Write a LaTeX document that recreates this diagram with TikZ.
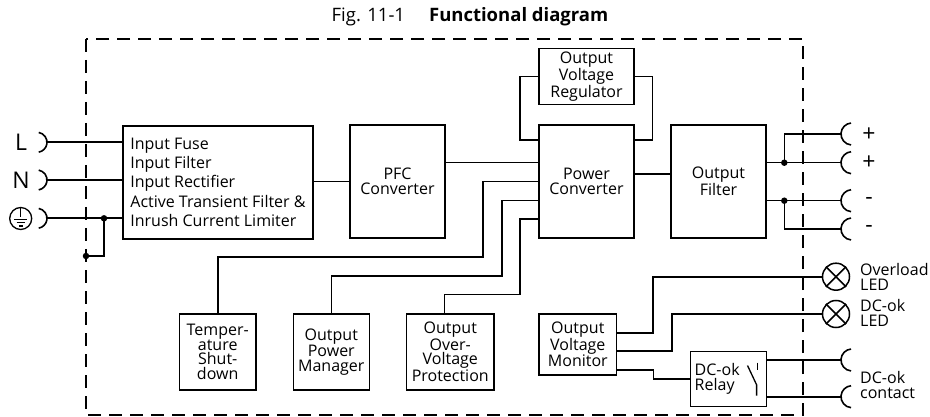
\documentclass[tikz,border=0pt]{standalone}
\usepackage{fontspec}
\setmainfont{Open Sans}
\begin{document}
\begin{tikzpicture}[x=1pt,y=-1pt]
\tikzset{
 blk/.style={draw, line width=1.5pt, align=center, inner sep=2pt, font=\fontsize{16}{15}\selectfont},
 wire/.style={line width=1.6pt},
 dot/.style={circle, fill, inner sep=0pt, minimum size=6.5pt},
 border/.style={line width=2pt, dash pattern=on 13pt off 8pt},
 big/.style={font=\fontsize{23}{24}\selectfont, inner sep=0pt},
 lbl/.style={font=\fontsize{16}{15}\selectfont, align=left, anchor=west, inner sep=0pt},
 lamp/.style={draw, circle, line width=1.5pt, minimum size=27pt, inner sep=0pt},
 lcup/.pic={\draw[line width=1.6pt] (-10,0) ++(-80:10) arc[start angle=-80,end angle=80,radius=10];},
 rcup/.pic={\draw[line width=1.6pt] (11,0) ++(95:11) arc[start angle=95,end angle=265,radius=11];}
}
\useasboundingbox (0,0) rectangle (930,417);
% title
\node[font=\fontsize{18.5}{19}\selectfont, inner sep=0pt] (title) at (470,16.5) {Fig. 11-1\hspace{1.3em}\textbf{Functional diagram}};
% border
\draw[border] (86,39) rectangle (803,415);
% blocks
\node[blk, minimum width=190pt, minimum height=113pt, align=left, font=\fontsize{16}{19.3}\selectfont] (in) at (218,182.3) {Input Fuse\\Input Filter\\Input Rectifier\\Active Transient Filter \&\\Inrush Current Limiter};
\node[blk, minimum width=95pt, minimum height=113pt] (pfc) at (397.5,181.5) {PFC\\Converter};
\node[blk, minimum width=95pt, minimum height=113pt] (pc) at (586.5,181.5) {Power\\Converter};
\node[blk, minimum width=95pt, minimum height=56pt, font=\fontsize{16}{15.8}\selectfont] (reg) at (586.5,76.4) {Output\\Voltage\\Regulator};
\node[blk, minimum width=95pt, minimum height=113pt] (of) at (718.5,181.5) {Output\\Filter};
\node[blk, minimum width=76.7pt, minimum height=76pt, font=\fontsize{16}{14.5}\selectfont] (temp) at (217.7,352) {Temper-\\ature\\Shut-\\down};
\node[blk, minimum width=76pt, minimum height=76pt, font=\fontsize{16}{14.3}\selectfont] (opm) at (331.3,352) {Output\\Power\\Manager};
\node[blk, minimum width=87.3pt, minimum height=76pt, font=\fontsize{16}{14.5}\selectfont] (oovp) at (450.3,352) {Output\\Over-\\Voltage\\Protection};
\node[blk, minimum width=77.7pt, minimum height=61pt, font=\fontsize{16}{15.8}\selectfont] (ovm) at (577.8,344.5) {Output\\Voltage\\Monitor};
\node[blk, minimum height=55pt, text width=68pt, inner xsep=4pt, align=left] (rel) at (728.7,379.2) {DC-ok\\Relay};
% relay switch
\draw[line width=1.3pt] (747.5,365.5) -- (756.6,384.8) -- (756.6,395.6);
\draw[line width=1.3pt] (757.8,362.5) -- (757.8,370);
% input terminals
\node[big] (lL) at (21,142.3) {L};
\node[big] (lN) at (21,180) {N};
\node[draw, circle, line width=1.3pt, minimum size=22pt, inner sep=0pt] (pe) at (20.7,218.5) {};
\draw[line width=1.2pt] (pe.north) -- ([yshift=1pt]pe.center);
\draw[line width=1.2pt] ([xshift=-6.7pt,yshift=-1pt]pe.center) -- ([xshift=6.7pt,yshift=-1pt]pe.center);
\draw[line width=1.2pt] ([xshift=-4.2pt,yshift=-4.3pt]pe.center) -- ([xshift=4.2pt,yshift=-4.3pt]pe.center);
\draw[line width=1.2pt] ([xshift=-1.9pt,yshift=-7.6pt]pe.center) -- ([xshift=1.9pt,yshift=-7.6pt]pe.center);
\coordinate (tL) at (47,142.3);
\coordinate (tN) at (47,180);
\coordinate (tE) at (47,218.3);
\pic at (tL) {lcup};
\pic at (tN) {lcup};
\pic at (tE) {lcup};
\draw[wire] (tL) -- (tL -| in.west);
\draw[wire] (tN) -- (tN -| in.west);
\draw[wire] (tE) -- (tE -| in.west);
\node[dot] (gd) at (104,218.3) {};
\node[dot] (bd) at (86,256) {};
\draw[wire] (gd.center) |- (bd.center);
% main chain
\draw[wire] (in.east |- 0,181.7) -- (pfc.west |- 0,181.7);
\draw[wire] (pfc.east |- 0,162.7) -- (pc.west |- 0,162.7);
\draw[wire] (reg.west) -| (520,140) -- (pc.west |- 0,140);
\draw[wire] (reg.east) -| (652.3,140) -- (pc.east |- 0,140);
\draw[wire] (pc.east |- 0,174) -- (of.west |- 0,174);
% control blocks
\draw[wire] (pc.west |- 0,181.7) -| (482.7,256.7) -| (temp.north);
\draw[wire] (pc.west |- 0,200.7) -| (501.7,275.7) -| (opm.north);
\draw[wire] (pc.west |- 0,219) -| (520,294.3) -| ([xshift=-6pt]oovp.north);
% outputs
\node[dot] (pd) at (784.3,162.7) {};
\node[dot] (md) at (784.3,200.7) {};
\coordinate (tP1) at (841,134);
\coordinate (tP2) at (841,162.7);
\coordinate (tM1) at (841,200.7);
\coordinate (tM2) at (841,229);
\draw[wire] (of.east |- pd) -- (tP2);
\draw[wire] (pd.center) |- (tP1);
\draw[wire] (of.east |- md) -- (tM1);
\draw[wire] (md.center) |- (tM2);
\pic at (tP1) {rcup};
\pic at (tP2) {rcup};
\pic at (tM1) {rcup};
\pic at (tM2) {rcup};
\node[big] (p1) at (869,134.5) {+};
\node[big] (p2) at (869,163) {+};
\node[big] (m1) at (869,201) {-};
\node[big] (m2) at (869,229) {-};
% LEDs and relay
\node[lamp] (led1) at (836,276.7) {};
\node[lamp] (led2) at (836,314) {};
\draw[wire] (led1.north west) -- (led1.south east);
\draw[wire] (led1.north east) -- (led1.south west);
\draw[wire] (led2.north west) -- (led2.south east);
\draw[wire] (led2.north east) -- (led2.south west);
\draw[wire] (ovm.east |- 0,332.7) -- (652.7,332.7) |- (led1.west);
\draw[wire] (ovm.east |- 0,351) -- (671.7,351) |- (led2.west);
\draw[wire] (ovm.east |- 0,370) -- (653.3,370) |- (rel.west);
\coordinate (tC1) at (841,360);
\coordinate (tC2) at (841,396.7);
\draw[wire] (rel.east |- tC1) -- (tC1);
\draw[wire] (rel.east |- tC2) -- (tC2);
\pic at (tC1) {rcup};
\pic at (tC2) {rcup};
\node[lbl] (t1) at (860,277) {Overload\\LED};
\node[lbl] (t2) at (860,312.5) {DC-ok\\LED};
\node[lbl] (t3) at (860,385) {DC-ok\\contact};
\end{tikzpicture}
\end{document}
